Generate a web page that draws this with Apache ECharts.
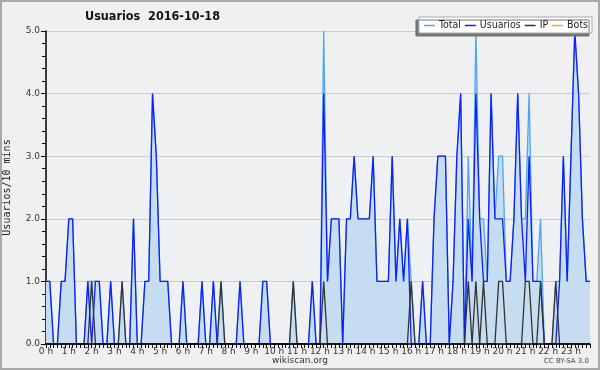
<!DOCTYPE html>
<html>
<head>
<meta charset="utf-8">
<script src="https://cdn.jsdelivr.net/npm/echarts@6/dist/echarts.min.js"></script>
<style>
html, body { margin: 0; padding: 0; background: #f0f0f0; }
#chart { width: 600px; height: 370px; }
</style>
</head>
<body>
<div id="chart"></div>
<script>
// one slot per 10 minutes, 0:00 .. 23:50
var slots = [];
for (var h = 0; h < 24; h++) {
	for (var m = 0; m < 60; m += 10) slots.push(h + ':' + (m < 10 ? '0' + m : m));
}

var total = [
	1,1,0,0,1,1,2,2,0,0,0,1,
	1,1,1,0,0,1,0,0,1,0,0,2,
	0,0,1,1,4,3,1,1,1,0,0,0,
	1,0,0,0,0,1,0,0,1,0,1,0,
	0,0,0,1,0,0,0,0,0,1,1,0,
	0,0,0,0,0,1,0,0,0,0,1,0,
	0,5,1,2,2,2,0,2,2,3,2,2,
	2,2,3,1,1,1,1,3,1,2,1,2,
	1,0,0,1,0,0,2,3,3,3,0,1,
	3,4,0,3,1,5,2,2,1,4,2,3,
	3,1,1,2,4,2,2,4,1,1,2,0,
	0,0,1,1,3,1,3,5,4,2,1,1
];
var usuarios = [
	1,1,0,0,1,1,2,2,0,0,0,1,
	0,1,1,0,0,1,0,0,0,0,0,2,
	0,0,1,1,4,3,1,1,1,0,0,0,
	1,0,0,0,0,1,0,0,1,0,0,0,
	0,0,0,1,0,0,0,0,0,1,1,0,
	0,0,0,0,0,0,0,0,0,0,1,0,
	0,4,1,2,2,2,0,2,2,3,2,2,
	2,2,3,1,1,1,1,3,1,2,1,2,
	0,0,0,1,0,0,2,3,3,3,0,1,
	3,4,0,2,1,4,2,1,1,4,2,2,
	2,1,1,2,4,2,1,3,1,1,1,0,
	0,0,0,1,3,1,3,5,4,2,1,1
];
var ip = [
	0,0,0,0,0,0,0,0,0,0,0,0,
	1,0,0,0,0,0,0,0,1,0,0,0,
	0,0,0,0,0,0,0,0,0,0,0,0,
	0,0,0,0,0,0,0,0,0,0,1,0,
	0,0,0,0,0,0,0,0,0,0,0,0,
	0,0,0,0,0,1,0,0,0,0,0,0,
	0,1,0,0,0,0,0,0,0,0,0,0,
	0,0,0,0,0,0,0,0,0,0,0,0,
	1,0,0,0,0,0,0,0,0,0,0,0,
	0,0,0,1,0,1,0,1,0,0,0,1,
	1,0,0,0,0,0,1,1,0,0,1,0,
	0,0,1,0,0,0,0,0,0,0,0,0
];
var bots = [
	0,0,0,0,0,0,0,0,0,0,0,0,
	0,0,0,0,0,0,0,0,0,0,0,0,
	0,0,0,0,0,0,0,0,0,0,0,0,
	0,0,0,0,0,0,0,0,0,0,0,0,
	0,0,0,0,0,0,0,0,0,0,0,0,
	0,0,0,0,0,0,0,0,0,0,0,0,
	0,0,0,0,0,0,0,0,0,0,0,0,
	0,0,0,0,0,0,0,0,0,0,0,0,
	0,0,0,0,0,0,0,0,0,0,0,0,
	0,0,0,0,0,0,0,0,0,0,0,0,
	0,0,0,0,0,0,0,0,0,0,0,0,
	0,0,0,0,0,0,0,0,0,0,0,0
];
var seriesNames = ['Total', 'Usuarios', 'IP', 'Bots'];
var seriesColors = ['#4ea6f0', '#1020f5', '#333333', '#ffa020'];

var chart = echarts.init(document.getElementById('chart'));
var font = 'DejaVu Sans';

function lineSeries(idx, data, z) {
	return {
		name: seriesNames[idx],
		type: 'line',
		data: data,
		symbol: 'none',
		z: z,
		lineStyle: { color: seriesColors[idx], width: 1.3 },
		itemStyle: { color: seriesColors[idx] },
		emphasis: { disabled: true }
	};
}

var totalSeries = lineSeries(0, total, 2);
totalSeries.areaStyle = { color: '#c6dcf0', opacity: 1 };

var option = {
	backgroundColor: '#f0f0f0',
	animation: false,
	title: {
		text: 'Usuarios  2016-10-18',
		left: 85,
		top: 10,
		padding: 0,
		textStyle: { fontFamily: 'DejaVu Sans Condensed', fontWeight: 'bold', fontSize: 12.5, color: '#111' }
	},
	legend: {
		data: seriesNames,
		right: 8,
		top: 17,
		icon: 'rect',
		itemWidth: 11,
		itemHeight: 1.5,
		itemGap: 4,
		padding: [3, 4, 2, 5],
		backgroundColor: '#fff',
		borderColor: '#aaa',
		borderWidth: 1,
		shadowColor: '#777',
		shadowOffsetX: -3,
		shadowOffsetY: 3,
		shadowBlur: 0,
		textStyle: { fontFamily: 'DejaVu Sans Condensed', fontSize: 10.5, color: '#222', padding: [0, 0, 0, -1] }
	},
	grid: {
		left: 46,
		top: 31,
		right: 10,
		bottom: 26,
		outerBoundsMode: 'none',
		containLabel: false,
		show: true,
		backgroundColor: '#eef0f2',
		borderWidth: 0
	},
	xAxis: {
		type: 'category',
		data: slots,
		boundaryGap: false,
		z: 5,
		axisLine: { lineStyle: { color: '#000', width: 1.5 } },
		axisTick: { interval: 0, length: 4, lineStyle: { color: '#000' } },
		axisLabel: {
			interval: function (i) { return i % 6 === 0; },
			formatter: function (v) { return parseInt(v, 10) + ' h'; },
			fontFamily: font,
			fontSize: 9,
			color: '#333',
			margin: 3
		},
		splitLine: { show: false }
	},
	yAxis: {
		type: 'value',
		min: 0,
		max: 5,
		interval: 1,
		name: 'Usuarios/10 mins',
		nameLocation: 'middle',
		nameRotate: 90,
		nameGap: 34,
		nameTextStyle: { fontFamily: 'DejaVu Sans Mono', fontSize: 10, color: '#222' },
		axisLine: { show: true, lineStyle: { color: '#000', width: 1.5 } },
		axisTick: { show: true, length: 5, lineStyle: { color: '#000' } },
		minorTick: { show: true, splitNumber: 5, length: 4, lineStyle: { color: '#000' } },
		splitLine: { lineStyle: { color: '#cccccc' } },
		axisLabel: {
			formatter: function (v) { return v.toFixed(1); },
			fontFamily: font,
			fontSize: 9,
			color: '#333',
			margin: 6
		}
	},
	series: [
		totalSeries,
		lineSeries(1, usuarios, 3),
		lineSeries(2, ip, 4),
		lineSeries(3, bots, 1)
	],
	graphic: [
		{
			type: 'rect',
			shape: { x: 1, y: 1, width: 598, height: 368 },
			style: { fill: 'none', stroke: '#a8a8a8', lineWidth: 2 },
			silent: true
		},
		{
			type: 'text',
			left: 'center',
			top: 356,
			style: { text: 'wikiscan.org', font: '9px DejaVu Sans', fill: '#333' }
		},
		{
			type: 'text',
			right: 11,
			top: 358,
			style: { text: 'CC BY-SA 3.0', font: '7px DejaVu Sans', fill: '#444' }
		}
	]
};

chart.setOption(option);
</script>
</body>
</html>
